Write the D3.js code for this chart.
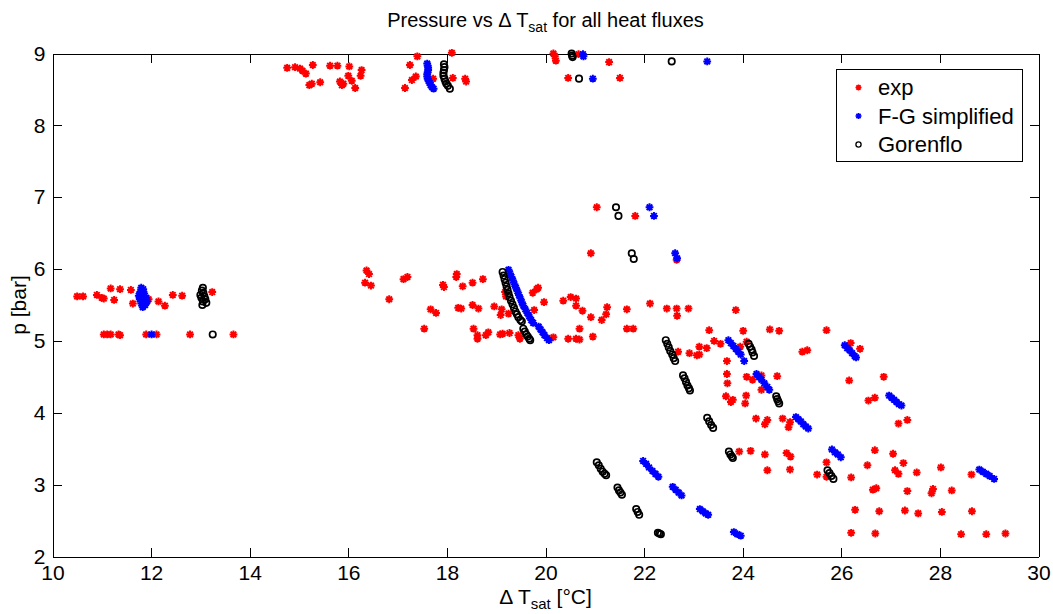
<!DOCTYPE html>
<html>
<head>
<meta charset="utf-8">
<script src="https://cdn.jsdelivr.net/npm/d3@7"></script>
<style>
html,body{margin:0;padding:0;background:#fff;}
svg{display:block;}
text{font-family:"Liberation Sans",Arial,Helvetica,sans-serif;fill:#000;}
</style>
</head>
<body>
<svg id="chart" width="1053" height="614"></svg>
<script>
// ---- data ----
const xTicks = [10,12,14,16,18,20,22,24,26,28,30];
const yTicks = [2,3,4,5,6,7,8,9];
const seriesNames = ["exp","F-G simplified","Gorenflo"];

const expData = [
 [14.76,8.80],[14.92,8.81],[15.02,8.79],[15.07,8.76],[15.14,8.72],[15.28,8.84],[15.21,8.56],[15.26,8.58],[15.43,8.60],
 [15.63,8.83],[15.78,8.83],[16.02,8.82],[16.27,8.77],[16.25,8.69],[16.00,8.69],[15.83,8.61],[15.90,8.58],[16.07,8.62],
 [16.14,8.52],[15.87,8.56],[17.40,8.96],[17.25,8.84],[17.37,8.68],[17.29,8.63],[17.15,8.52],[17.72,8.65],[18.10,9.01],
 [18.12,8.66],[18.37,8.65],[18.39,8.61],[20.16,9.00],[20.19,8.96],[20.21,8.90],[21.29,8.88],[20.46,8.66],[21.51,8.66],[20.67,8.99],
 [10.50,5.62],[10.62,5.62],[10.90,5.64],[11.00,5.60],[11.04,5.59],[11.18,5.73],[11.37,5.72],[11.25,5.57],[11.59,5.71],
 [11.63,5.52],[11.95,5.58],[12.15,5.55],[12.28,5.49],[12.44,5.64],[12.63,5.63],[13.24,5.68],
 [11.04,5.09],[11.11,5.09],[11.18,5.09],[11.34,5.09],[11.37,5.08],[11.90,5.09],[12.11,5.09],[12.79,5.09],[13.67,5.09],
 [16.37,5.98],[16.42,5.93],[16.34,5.81],[16.46,5.77],[16.83,5.58],[17.12,5.86],[17.20,5.89],[17.54,5.17],[17.67,5.44],
 [17.78,5.39],[17.92,5.78],[17.94,5.75],[18.20,5.93],[18.19,5.89],[18.32,5.76],[18.52,5.81],[18.73,5.86],[18.23,5.46],
 [18.29,5.45],[18.52,5.50],[18.64,5.45],[18.54,5.17],[18.62,5.08],[18.62,5.03],[18.79,5.08],[18.84,5.12],[18.96,5.48],
 [19.09,5.36],[19.11,5.44],[19.18,5.68],[19.20,5.62],[19.25,5.38],[19.08,5.09],[19.13,5.10],[19.27,5.11],[19.45,5.08],
 [19.48,5.03],[19.74,5.67],[19.82,5.72],[19.85,5.74],[19.77,5.43],[19.97,5.54],[20.16,5.05],
 [20.36,5.56],[20.51,5.61],[20.62,5.59],[20.62,5.49],[20.75,5.42],[20.92,5.33],[21.14,5.29],[21.23,5.37],[21.25,5.47],
 [21.65,5.44],[21.65,5.17],[21.78,5.17],[20.69,5.17],[20.46,5.03],[20.62,5.03],[20.69,5.02],[20.96,5.06],[22.12,5.52],
 [21.04,6.86],[21.82,6.74],[20.92,6.22],[22.66,6.13],[22.46,5.45],[22.66,5.45],[22.67,5.35],[22.90,5.45],
 [23.86,5.43],[23.32,5.15],[24.01,5.14],[24.55,5.16],[24.74,5.14],[23.42,5.00],[23.55,4.96],[23.12,4.92],[23.27,4.90],
 [22.92,4.83],[23.07,4.80],[23.12,4.81],[23.68,4.72],[23.68,4.54],[24.08,4.50],[24.70,4.51],[23.95,4.92],[24.08,4.99],
 [25.21,4.85],[25.31,4.87],[22.69,4.85],
 [25.70,5.15],[26.19,4.97],[26.38,4.89],[26.16,4.45],[26.86,4.50],[26.55,4.17],[26.68,4.21],[27.16,3.85],[27.34,3.90],
 [24.81,3.92],[24.96,3.87],[24.93,3.80],[26.68,3.48],
 [24.20,4.46],[24.38,4.52],[23.69,4.41],[23.66,4.23],[23.80,4.18],[23.76,4.15],[24.07,4.24],[24.05,4.13],[24.38,4.32],
 [24.27,3.92],[24.50,3.90],[24.45,3.84],[23.93,3.46],[24.16,3.47],[24.45,3.42],[24.89,3.44],[24.97,3.39],[24.50,3.20],
 [24.96,3.21],[25.51,3.14],
 [25.70,3.31],[25.70,3.11],[26.20,3.10],[26.53,3.27],[27.05,3.43],[27.26,3.30],[27.09,3.20],[27.16,3.15],[27.53,3.17],
 [28.02,3.24],[28.64,3.14],[26.64,2.93],[26.71,2.95],[27.34,2.91],[27.86,2.94],[27.83,2.88],[28.24,2.92],[26.28,2.65],
 [26.77,2.63],[27.29,2.64],[27.56,2.60],[28.04,2.62],[28.65,2.63],[26.20,2.33],[26.69,2.32],[28.43,2.31],[28.94,2.31],[29.33,2.32]
];

const fgData = [
 [17.60,8.86],[17.61,8.83],[17.62,8.80],[17.62,8.77],[17.61,8.74],[17.60,8.71],[17.60,8.68],[17.61,8.65],[17.63,8.62],
 [17.65,8.59],[17.67,8.56],[17.70,8.53],[17.73,8.51],
 [20.76,8.99],[20.77,8.96],[20.96,8.65],[23.28,8.89],
 [22.11,6.86],[22.20,6.74],[22.63,6.22],[22.67,6.15],
 [11.80,5.74],[11.84,5.72],[11.78,5.68],[11.86,5.66],[11.75,5.63],[11.82,5.62],[11.90,5.60],[11.77,5.58],[11.85,5.56],
 [11.92,5.55],[11.80,5.52],[11.88,5.50],[11.83,5.47],[12.01,5.09],
 [19.25,5.99],[19.28,5.94],[19.31,5.89],[19.34,5.84],[19.37,5.79],[19.40,5.74],[19.43,5.69],[19.46,5.64],[19.49,5.59],
 [19.52,5.54],[19.55,5.49],[19.59,5.44],[19.63,5.39],[19.67,5.34],[19.71,5.29],[19.75,5.25],
 [19.86,5.20],[19.90,5.16],[19.94,5.12],[19.98,5.08],[20.03,5.04],[20.07,5.01],
 [23.71,5.01],[23.76,4.97],[23.81,4.93],[23.86,4.89],[23.91,4.85],[23.96,4.81],[24.03,4.72],
 [24.28,4.54],[24.33,4.50],[24.38,4.46],[24.44,4.41],[24.50,4.36],[24.54,4.32],
 [25.08,3.94],[25.13,3.91],[25.18,3.88],[25.23,3.84],[25.28,3.81],[25.33,3.78],
 [26.07,4.94],[26.12,4.90],[26.17,4.87],[26.22,4.83],[26.27,4.79],[26.30,4.77],
 [26.97,4.24],[27.02,4.21],[27.07,4.18],[27.12,4.15],[27.17,4.12],[27.22,4.10],
 [25.81,3.49],[25.87,3.45],[25.93,3.42],[25.99,3.38],
 [28.80,3.21],[28.87,3.18],[28.94,3.15],[29.01,3.12],[29.10,3.08],
 [21.98,3.33],[22.04,3.29],[22.10,3.24],[22.17,3.19],[22.23,3.15],[22.29,3.11],
 [22.58,2.97],[22.64,2.93],[22.70,2.89],[22.76,2.85],
 [23.13,2.66],[23.19,2.63],[23.25,2.60],[23.30,2.58],
 [23.82,2.34],[23.89,2.31],[23.96,2.29]
];

const gorData = [
 [17.94,8.85],[17.95,8.81],[17.94,8.77],[17.93,8.73],[17.93,8.69],[17.95,8.65],[17.97,8.61],[17.99,8.58],[18.02,8.55],[18.06,8.51],
 [20.53,9.00],[20.54,8.97],[20.55,8.95],[20.68,8.65],[22.56,8.89],
 [21.43,6.86],[21.48,6.74],[21.75,6.22],[21.79,6.14],
 [13.05,5.74],[13.03,5.70],[13.06,5.67],[13.00,5.64],[13.08,5.62],[13.02,5.60],[13.10,5.58],[13.05,5.55],[13.12,5.53],[13.04,5.50],
 [13.25,5.09],
 [19.13,5.96],[19.15,5.91],[19.17,5.86],[19.19,5.81],[19.21,5.76],[19.23,5.71],[19.25,5.66],[19.27,5.61],[19.30,5.56],
 [19.33,5.51],[19.36,5.46],[19.39,5.41],[19.42,5.37],[19.45,5.33],[19.49,5.29],[19.52,5.27],
 [19.55,5.17],[19.58,5.13],[19.61,5.09],[19.64,5.06],[19.67,5.03],[19.69,5.01],
 [22.44,5.01],[22.47,4.96],[22.50,4.91],[22.53,4.86],[22.57,4.81],[22.60,4.76],[22.63,4.72],
 [24.12,4.96],[24.15,4.92],[24.18,4.88],[24.20,4.84],[24.23,4.79],
 [22.79,4.52],[22.82,4.48],[22.85,4.43],[22.88,4.38],[22.91,4.34],[22.93,4.31],
 [24.68,4.23],[24.70,4.19],[24.72,4.16],[24.74,4.13],
 [23.28,3.93],[23.32,3.88],[23.36,3.83],[23.40,3.79],
 [23.72,3.46],[23.75,3.42],[23.78,3.39],[23.80,3.37],
 [25.72,3.20],[25.76,3.16],[25.80,3.12],[25.84,3.08],
 [21.04,3.31],[21.08,3.27],[21.12,3.22],[21.16,3.18],[21.20,3.15],[21.23,3.13],
 [21.46,2.96],[21.49,2.92],[21.52,2.89],[21.55,2.86],
 [21.84,2.66],[21.87,2.62],[21.90,2.58],
 [22.28,2.33],[22.31,2.32],[22.34,2.31]
];

// ---- drawing ----
const svg = d3.select("#chart");
const L = 52.5, R = 1038.5, T = 53.5, B = 556.5;
const x = d3.scaleLinear().domain([10,30]).range([L,R]);
const y = d3.scaleLinear().domain([2,9]).range([B,T]);
const FS = 21;

function asterisk(r){
  const d = r*0.72;
  return `M${-r},0H${r}M0,${-r}V${r}M${-d},${-d}L${d},${d}M${-d},${d}L${d},${-d}`;
}

// axes
const gB = svg.append("g").attr("transform",`translate(0,${B})`)
  .call(d3.axisBottom(x).tickValues(xTicks).tickSize(-9).tickSizeOuter(0).tickPadding(9).tickFormat(d3.format("d")));
const gT = svg.append("g").attr("transform",`translate(0,${T})`)
  .call(d3.axisTop(x).tickValues(xTicks).tickSize(-9).tickSizeOuter(0).tickFormat(""));
const gL = svg.append("g").attr("transform",`translate(${L},0)`)
  .call(d3.axisLeft(y).tickValues(yTicks).tickSize(-9).tickSizeOuter(0).tickPadding(7).tickFormat(d3.format("d")));
const gR = svg.append("g").attr("transform",`translate(${R},0)`)
  .call(d3.axisRight(y).tickValues(yTicks).tickSize(-9).tickSizeOuter(0).tickFormat(""));
[gB,gT,gL,gR].forEach(g=>{
  g.selectAll(".domain").attr("stroke","#000").attr("stroke-width",1).attr("shape-rendering","crispEdges");
  g.selectAll(".tick line").attr("stroke","#000").attr("stroke-width",1).attr("shape-rendering","crispEdges");
  g.selectAll("text").attr("font-size",FS).attr("font-family",null).attr("fill","#000");
});

// series
const gExp = svg.append("g");
gExp.selectAll("path").data(expData).join("path")
  .attr("d",asterisk(3.9))
  .attr("transform",d=>`translate(${x(d[0])},${y(d[1])})`)
  .attr("fill","none").attr("stroke","#ff0000").attr("stroke-width",2);

const gFG = svg.append("g");
gFG.selectAll("path").data(fgData).join("path")
  .attr("d",asterisk(3.9))
  .attr("transform",d=>`translate(${x(d[0])},${y(d[1])})`)
  .attr("fill","none").attr("stroke","#0000ff").attr("stroke-width",2);

const gGor = svg.append("g");
gGor.selectAll("circle").data(gorData).join("circle")
  .attr("cx",d=>x(d[0])).attr("cy",d=>y(d[1])).attr("r",3.2)
  .attr("fill","none").attr("stroke","#000").attr("stroke-width",1.7);

// title
const title = svg.append("text").attr("x",(L+R)/2).attr("y",27).attr("text-anchor","middle").attr("font-size",20);
title.append("tspan").text("Pressure vs \u0394 T");
title.append("tspan").attr("font-size",14).attr("dy",5).text("sat");
title.append("tspan").attr("dy",-5).text(" for all heat fluxes");

// x label
const xl = svg.append("text").attr("x",(L+R)/2).attr("y",604).attr("text-anchor","middle").attr("font-size",FS);
xl.append("tspan").text("\u0394 T");
xl.append("tspan").attr("font-size",15).attr("dy",5).text("sat");
xl.append("tspan").attr("dy",-5).text(" [\u00B0C]");

// y label
svg.append("text").attr("transform",`translate(26,${(T+B)/2}) rotate(-90)`)
  .attr("text-anchor","middle").attr("font-size",FS).text("p [bar]");

// legend
const lg = svg.append("g");
lg.append("rect").attr("x",836.5).attr("y",69.5).attr("width",186).attr("height",92)
  .attr("fill","#fff").attr("stroke","#000").attr("stroke-width",1).attr("shape-rendering","crispEdges");
const rowsY = [87.5,116,144.5];
const legColors = ["#ff0000","#0000ff","#000"];
seriesNames.forEach((name,i)=>{
  const cy = rowsY[i];
  if(i<2){
    lg.append("path").attr("d",asterisk(3)).attr("transform",`translate(858.5,${cy})`)
      .attr("fill","none").attr("stroke",legColors[i]).attr("stroke-width",1.6);
  } else {
    lg.append("circle").attr("cx",858.5).attr("cy",cy).attr("r",2.6)
      .attr("fill","none").attr("stroke","#000").attr("stroke-width",1.3);
  }
  lg.append("text").attr("x",878).attr("y",cy+7.5).attr("font-size",22).text(name);
});
</script>
</body>
</html>
